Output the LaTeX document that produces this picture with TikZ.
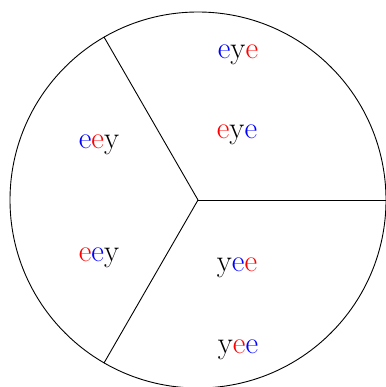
\documentclass[tikz,border=0pt]{standalone}
\usepackage{xcolor}
\begin{document}
\begin{tikzpicture}[x=1pt,y=-1pt,
  lbl/.style={anchor=base,inner sep=0pt,font=\fontsize{31}{36}\selectfont},
  seg/.style={draw=black,line width=0.9pt}]
\useasboundingbox (0,0) rectangle (385,387);
\coordinate (c) at (198,200);
\draw[seg] (c) circle (188);
\coordinate (r) at (386,200);
\coordinate (ul) at (104,37);
\coordinate (ll) at (104,363);
\draw[seg] (c) -- (r);
\draw[seg] (c) -- (ul);
\draw[seg] (c) -- (ll);
\node[lbl] (t1) at (238,59) {\textcolor{blue}{e}y\textcolor{red}{e}};
\node[lbl] (t2) at (237,139) {\textcolor{red}{e}y\textcolor{blue}{e}};
\node[lbl] (l1) at (99,149) {\textcolor{blue}{e}\textcolor{red}{e}y};
\node[lbl] (l2) at (99,261) {\textcolor{red}{e}\textcolor{blue}{e}y};
\node[lbl] (b1) at (237,271) {y\textcolor{blue}{e}\textcolor{red}{e}};
\node[lbl] (b2) at (238,353) {y\textcolor{red}{e}\textcolor{blue}{e}};
\end{tikzpicture}
\end{document}
